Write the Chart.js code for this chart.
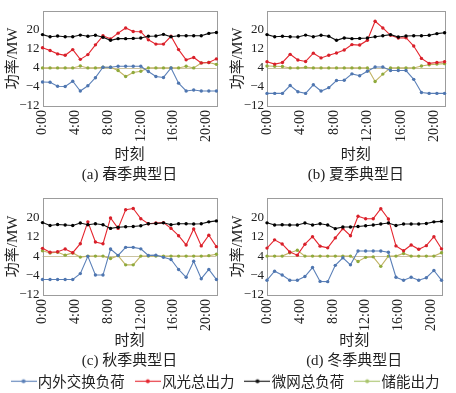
<!DOCTYPE html>
<html><head><meta charset="utf-8">
<script src="https://cdn.jsdelivr.net/npm/chart.js@4/dist/chart.umd.min.js"></script>
<style>
html,body{margin:0;padding:0;background:#fff;width:456px;height:393px;overflow:hidden}
canvas{position:absolute;display:block}
</style></head><body>
<canvas id="ca" width="228" height="186" style="left:0;top:0"></canvas>
<canvas id="cb" width="228" height="186" style="left:228px;top:0"></canvas>
<canvas id="cc" width="228" height="184" style="left:0;top:187px"></canvas>
<canvas id="cd" width="228" height="184" style="left:228px;top:187px"></canvas>
<canvas id="cl" width="456" height="100" style="left:0;top:358px"></canvas>
<script>
// ---- categories & tick labels ----
const hours = ["0:00","1:00","2:00","3:00","4:00","5:00","6:00","7:00","8:00","9:00","10:00","11:00",
  "12:00","13:00","14:00","15:00","16:00","17:00","18:00","19:00","20:00","21:00","22:00","23:00"];
const xTickValues = [0,4,8,12,16,20];
const xTickLabels = ["0:00","4:00","8:00","12:00","16:00","20:00"];
const yTickValues = [-12,-4,4,12,20];
const yTickLabels = ["\u221212","\u22124","4","12","20"];
const seriesNames = ["内外交换负荷","风光总出力","微网总负荷","储能出力"];
const panelTitles = ["(a) 春季典型日","(b) 夏季典型日","(c) 秋季典型日","(d) 冬季典型日"];
const baseLevel = 4;

// ---- spring (a) ----
const springExchange = [-1.9,-2.0,-3.7,-3.8,-1.6,-5.7,-3.5,-0.1,4.3,4.3,4.7,4.7,4.7,4.7,2.5,0.4,0.0,4.0,-2.4,-5.7,-5.3,-5.7,-5.7,-5.7];
const springRenew    = [12.5,11.3,9.9,9.3,11.7,7.6,9.6,13.7,17.5,16.2,18.6,20.8,19.3,19.2,15.8,14.0,14.0,17.3,11.7,7.4,8.4,6.1,6.3,7.8];
const springLoad     = [18.0,17.1,17.4,17.1,17.1,17.8,17.3,17.7,16.9,15.6,16.3,16.3,16.4,16.6,17.3,17.4,18.1,17.1,17.5,17.5,17.5,17.5,18.5,18.9];
const springStorage  = [4,4,4,4,4,4.8,4,4,4.3,4.3,2.9,0.4,2.1,2.6,4,4,4,4,4,4.7,4,6.1,6.3,5.5];
// ---- summer (b) ----
const summerExchange = [-6.7,-6.7,-6.7,-3.4,-6.0,-6.7,-3.1,-5.7,-4.3,-1.3,-1.2,1.5,0.7,2.6,4.4,4.4,2.9,2.9,2.9,-0.8,-6.3,-6.7,-6.7,-6.7];
const summerRenew    = [6.6,5.6,6.3,9.7,7.3,6.7,10.2,8.2,9.3,10.3,11.5,13.8,13.6,15.6,23.6,20.8,17.7,16.6,16.7,13.2,8.0,5.9,6.3,6.6];
const summerLoad     = [18.0,17.1,17.3,17.1,17.0,17.8,17.1,17.7,17.3,15.6,16.6,16.3,16.4,16.6,17.1,17.5,18.0,17.0,17.4,17.5,17.5,17.7,18.4,18.8];
const summerStorage  = [4.8,4.7,4.6,4,4,4.3,4,4,4,4,4,4,4,4,-1.7,1.4,4,4,4,4,4.8,5.3,5.6,5.8];
// ---- autumn (c) ----
const autumnExchange = [-5.6,-5.6,-5.6,-5.6,-5.6,-3.2,3.9,-3.8,-3.8,6.9,4.3,7.6,7.6,7.0,4.3,4.4,3.5,2.6,-1.5,-4.7,1.9,-5.3,-1.5,-5.6];
const autumnRenew    = [7.2,5.6,5.8,6.9,5.4,9.1,18.1,9.8,9.1,19.7,15.4,23.1,23.6,19.4,17.3,17.6,17.8,15.4,12.4,8.6,15.2,8.2,12.6,7.9];
const autumnLoad     = [17.8,16.6,17.0,16.8,16.6,17.6,16.9,17.3,16.9,15.4,15.9,16.1,16.2,16.5,17.3,17.4,17.7,16.9,17.3,17.3,17.2,17.3,18.1,18.5];
const autumnStorage  = [6.2,5.3,5.6,4.4,5.3,3.6,4,4,4,3.0,4.2,0.4,0.4,4,4,4,4,4,4,4,4,4,4.2,4.8];
// ---- winter (d) ----
const winterExchange = [-5.9,-2.2,-3.8,-5.9,-5.9,-4.4,-0.7,-6.4,-6.5,0.2,3.3,0.4,6.1,6.1,6.1,6.1,5.6,-4.7,-5.9,-4.7,-5.9,-4.9,-1.9,-5.9];
const winterRenew    = [7.3,10.7,9.0,5.7,4.4,8.9,12.0,8.1,7.4,11.5,15.3,12.4,20.4,19.4,19.4,23.5,19.3,8.2,6.2,8.6,6.8,8.3,12.0,7.0];
const winterLoad     = [17.7,16.8,16.9,16.8,16.8,17.6,16.8,17.3,16.8,15.3,16.0,16.0,16.2,16.5,16.8,17.2,17.6,16.6,17.2,17.2,17.2,17.4,18.1,18.3];
const winterStorage  = [4,4,4,5.4,6.4,4,4,4,4,4,4,4,1.8,3.5,3.7,-0.2,4,4,5.1,4,4,4,4,5.4];

// ---- styles ----
const lineColors  = ["#5b80b8","#e5262f","#111111","#c2b466"];
const pointColors = ["#4f76b0","#d8202a","#000000","#8faa3c"];
const legendColors= ["#5b80b8","#e5262f","#111111","#a9c46c"];
const serif = "'Liberation Serif','Noto Sans CJK SC',serif";
const cjk = "'Liberation Serif','Noto Sans CJK SC',sans-serif";

const framePlugin = {
  id:'frame',
  beforeDatasetsDraw(chart){
    const {ctx, chartArea:a, scales} = chart;
    ctx.save();
    const yb = Math.round(scales.y.getPixelForValue(baseLevel))+0.5;
    ctx.strokeStyle = '#cbc3a0'; ctx.lineWidth = 1;
    ctx.beginPath(); ctx.moveTo(a.left, yb); ctx.lineTo(a.right, yb); ctx.stroke();
    ctx.strokeStyle = '#9c9c9c';
    ctx.strokeRect(Math.round(a.left)+0.5, Math.round(a.top)+0.5, Math.round(a.right-a.left), Math.round(a.bottom-a.top));
    ctx.restore();
  }
};

function ds(i, data){
  return {label:seriesNames[i], data:data, borderColor:lineColors[i], backgroundColor:pointColors[i],
    pointBackgroundColor:pointColors[i], pointBorderColor:pointColors[i], pointRadius:1.7, pointBorderWidth:0,
    borderWidth:1.1, tension:0, clip:4, order: i===2?0:(i===3?3:i+1)};
}

function makePanel(id, title, series, cfg){
  new Chart(document.getElementById(id), {
    type:'line',
    data:{labels:hours, datasets:[ds(0,series[0]), ds(1,series[1]), ds(2,series[2]), ds(3,series[3])]},
    options:{
      responsive:false, animation:false, events:[],
      layout:{padding:{left:0,right:cfg.padR,top:cfg.padT,bottom:0}},
      plugins:{legend:{display:false}, tooltip:{enabled:false}},
      scales:{
        x:{type:'category', display:false, offset:false},
        xt:{type:'linear', position:'bottom', min:0, max:21.2,
          grid:{display:false, drawTicks:false}, border:{display:false},
          afterBuildTicks(s){ s.ticks = xTickValues.map(v=>({value:v})); },
          afterFit(s){ s.height = cfg.xH; },
          ticks:{autoSkip:false, minRotation:90, maxRotation:90, padding:4, color:'#222',
            font:{family:serif, size:14},
            callback:(v,i)=>xTickLabels[i]},
          title:{display:true, text:["时刻", title], color:'#222', font:{family:cjk, size:15, lineHeight:1.333},
            padding:{top:0,bottom:cfg.tPad}}
        },
        y:{min:-12, max:28,
          grid:{display:false, drawTicks:false}, border:{display:false},
          afterBuildTicks(s){ s.ticks = yTickValues.map(v=>({value:v})); },
          afterFit(s){ s.width = cfg.yW; },
          ticks:{padding:3, color:'#222', font:{family:serif, size:13}, callback:(v,i)=>yTickLabels[i]},
          title:{display:true, text:"功率/MW", color:'#222', font:{family:cjk, size:15}, padding:{top:cfg.yTP,bottom:0}}
        }
      }
    },
    plugins:[framePlugin]
  });
}

makePanel('ca', panelTitles[0], [springExchange,springRenew,springLoad,springStorage], {padR:7.5,padT:7,xH:80,yW:42.5,yTP:4,tPad:1});
makePanel('cb', panelTitles[1], [summerExchange,summerRenew,summerLoad,summerStorage], {padR:10,padT:7,xH:80,yW:39,yTP:1,tPad:1});
makePanel('cc', panelTitles[2], [autumnExchange,autumnRenew,autumnLoad,autumnStorage], {padR:8,padT:7,xH:76,yW:42.5,yTP:4,tPad:0});
makePanel('cd', panelTitles[3], [winterExchange,winterRenew,winterLoad,winterStorage], {padR:14.5,padT:7,xH:76,yW:39,yTP:1,tPad:0});

// ---- legend ----
function marker(color){
  const c = document.createElement('canvas'); c.width = 26; c.height = 7;
  const g = c.getContext('2d');
  g.strokeStyle = color; g.lineWidth = 1.1;
  g.beginPath(); g.moveTo(0,3.5); g.lineTo(26,3.5); g.stroke();
  g.fillStyle = color; g.beginPath(); g.arc(13,3.5,2,0,Math.PI*2); g.fill();
  return c;
}
const markers = legendColors.map(marker);
new Chart(document.getElementById('cl'), {
  type:'line',
  data:{labels:[], datasets:seriesNames.map((n,i)=>({label:n, data:[], borderColor:legendColors[i]}))},
  options:{
    responsive:false, animation:false, events:[],
    scales:{x:{display:false}, y:{display:false}},
    plugins:{tooltip:{enabled:false},
      legend:{display:true, position:'top',
        labels:{usePointStyle:true, pointStyleWidth:14, padding:16, color:'#222',
          font:{family:"'Noto Sans CJK SC',sans-serif", size:14.5},
          generateLabels:(chart)=>chart.data.datasets.map((d,i)=>({text:d.label, pointStyle:markers[i],
            fillStyle:legendColors[i], strokeStyle:legendColors[i], lineWidth:0, hidden:false, datasetIndex:i, fontColor:'#222'}))}
      }
    }
  }
});
</script>
</body></html>
